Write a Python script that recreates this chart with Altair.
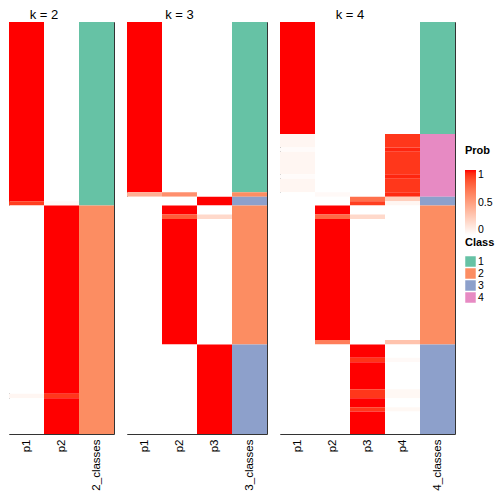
import altair as alt
import pandas as pd

FONT = "Liberation Sans"
N_ROWS = 92
CLASS_LABELS = ["1", "2", "3", "4"]
CLASS_COLORS = ["#66C2A5", "#FC8D62", "#8DA0CB", "#E78AC3"]

# Runs of samples (top to bottom): (number of rows, class, p1, p2, ...)
k2_runs = [
    (40, 1, 1.00, 0.00),
    (1, 1, 0.90, 0.03),
    (42, 2, 0.00, 1.00),
    (1, 2, 0.05, 0.92),
    (8, 2, 0.00, 1.00),
]
k3_runs = [
    (38, 1, 1.00, 0.00, 0.00),
    (1, 2, 0.42, 0.58, 0.00),
    (2, 3, 0.00, 0.00, 1.00),
    (2, 2, 0.00, 1.00, 0.00),
    (1, 2, 0.00, 0.80, 0.20),
    (28, 2, 0.00, 1.00, 0.00),
    (20, 3, 0.00, 0.00, 1.00),
]
k4_runs = [
    (25, 1, 1.00, 0.00, 0.00, 0.00),
    (3, 4, 0.05, 0.00, 0.00, 0.92),
    (1, 4, 0.02, 0.00, 0.00, 0.96),
    (5, 4, 0.05, 0.00, 0.00, 0.92),
    (1, 4, 0.02, 0.00, 0.00, 0.96),
    (3, 4, 0.05, 0.00, 0.00, 0.92),
    (1, 4, 0.00, 0.03, 0.00, 0.95),
    (1, 3, 0.00, 0.00, 0.72, 0.26),
    (1, 3, 0.00, 0.00, 0.90, 0.05),
    (2, 2, 0.00, 1.00, 0.00, 0.00),
    (1, 2, 0.00, 0.75, 0.20, 0.00),
    (27, 2, 0.00, 1.00, 0.00, 0.00),
    (1, 2, 0.00, 0.66, 0.00, 0.32),
    (3, 3, 0.00, 0.00, 1.00, 0.00),
    (1, 3, 0.00, 0.00, 0.93, 0.03),
    (6, 3, 0.00, 0.00, 1.00, 0.00),
    (2, 3, 0.00, 0.00, 0.92, 0.04),
    (2, 3, 0.00, 0.00, 1.00, 0.00),
    (1, 3, 0.00, 0.00, 0.92, 0.04),
    (5, 3, 0.00, 0.00, 1.00, 0.00),
]

STEP = 35


def merge_runs(values):
    out = []
    start = 0
    for i in range(1, len(values) + 1):
        if i == len(values) or values[i] != values[start]:
            out.append((start, i, values[start]))
            start = i
    return out


prob_legend = alt.Legend(
    title="Prob", orient="none", legendX=456, legendY=123,
    gradientLength=65, gradientThickness=11, gradientStrokeWidth=0,
    values=[0, 0.5, 1], format="~g", direction="vertical",
    titleFont=FONT, titleFontSize=11, titleFontWeight="bold", titleColor="black",
    labelFont=FONT, labelFontSize=10.5, labelColor="black", labelOffset=2,
    titlePadding=14,
)
class_legend = alt.Legend(
    title="Class", orient="none", legendX=456, legendY=215,
    symbolType="square", symbolSize=110, symbolStrokeWidth=0,
    rowPadding=1, labelOffset=2,
    titleFont=FONT, titleFontSize=11, titleFontWeight="bold", titleColor="black",
    labelFont=FONT, labelFontSize=10.5, labelColor="black", titlePadding=8,
)


def panel(k, runs):
    cols = [f"p{i}" for i in range(1, k + 1)]
    cls_col = f"{k}_classes"
    rows = []
    for n, c, *ps in runs:
        rows.extend([(c, ps)] * n)
    prob_recs = []
    for j, col in enumerate(cols):
        for a, b, v in merge_runs([r[1][j] for r in rows]):
            prob_recs.append({"col": col, "y0": a, "y1": b, "prob": v})
    cls_recs = []
    for a, b, v in merge_runs([str(r[0]) for r in rows]):
        cls_recs.append({"col": cls_col, "y0": a, "y1": b, "cls": v})

    x_enc = alt.X(
        "col:N",
        scale=alt.Scale(domain=cols + [cls_col], paddingInner=0, paddingOuter=0),
        axis=alt.Axis(title=None, labelAngle=270, ticks=False, domain=False,
                      labelPadding=5, labelFont=FONT, labelFontSize=11.5,
                      labelColor="black"),
    )
    y_enc = alt.Y("y0:Q", scale=alt.Scale(domain=[0, N_ROWS], reverse=True,
                                          nice=False, zero=False), axis=None)
    prob = alt.Chart(pd.DataFrame(prob_recs)).mark_rect().encode(
        x=x_enc, y=y_enc, y2="y1:Q",
        color=alt.Color("prob:Q",
                        scale=alt.Scale(domain=[0, 1], range=["#FFFFFF", "#FF0000"],
                                        interpolate="lab"),
                        legend=prob_legend),
    )
    cls = alt.Chart(pd.DataFrame(cls_recs)).mark_rect().encode(
        x=x_enc, y=y_enc, y2="y1:Q",
        fill=alt.Fill("cls:N",
                      scale=alt.Scale(domain=CLASS_LABELS, range=CLASS_COLORS),
                      legend=class_legend),
    )
    return alt.layer(prob, cls).properties(
        width=STEP * (k + 1), height=412,
        title=alt.TitleParams(f"k = {k}", dx=-STEP / 2, fontSize=13, font=FONT,
                              fontWeight="normal", color="black", offset=0),
    )


chart = alt.hconcat(
    panel(2, k2_runs), panel(3, k3_runs), panel(4, k4_runs), spacing=11
).properties(
    padding={"left": 0, "top": 0, "right": 0, "bottom": 0},
).configure_view(stroke="#333333", strokeWidth=1)

chart.save("out.html", embed_options={"renderer": "svg", "actions": False})
